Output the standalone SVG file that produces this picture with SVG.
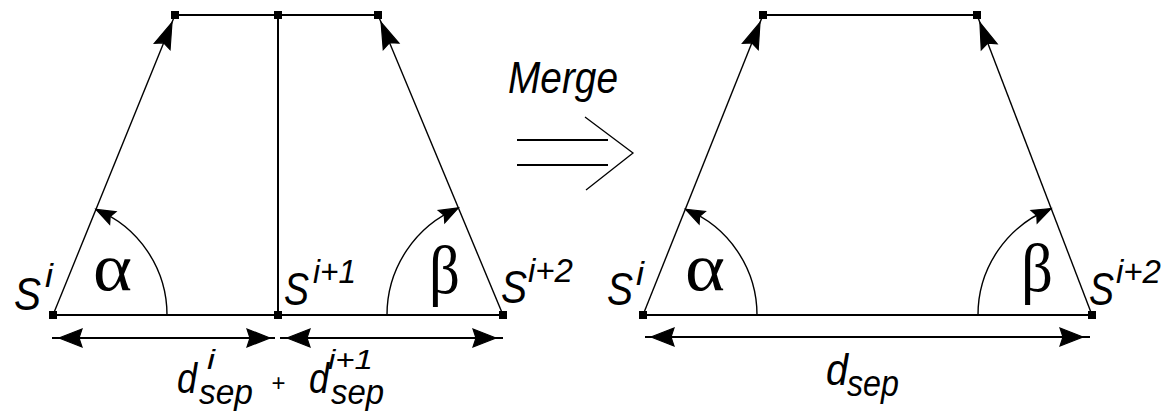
<svg xmlns="http://www.w3.org/2000/svg" xmlns:xlink="http://www.w3.org/1999/xlink" width="1163" height="412" viewBox="0 0 1163 412">
<style>
.ln{stroke:#000;stroke-width:2;fill:none}
.sl{stroke:#000;stroke-width:1.4;fill:none}
.arc{stroke:#000;stroke-width:1.4;fill:none}
.dot{fill:#000}
.it{font-family:"Liberation Sans",Arial,sans-serif;font-style:italic;fill:#000}
.gr{font-family:"Liberation Serif","Times New Roman",serif;fill:#000}
.pl{font-family:"Liberation Sans",Arial,sans-serif;fill:#000}
</style>
<defs>
<path id="head" d="M0,0 L-26,-8.5 L-22,0 L-26,8.5 z" fill="#000" stroke="#000" stroke-width="1.2" style="fill:#000"/>
<path id="dhead" d="M0,0 L-23,-9 L-20,0 L-23,9 z" fill="#000" stroke="#000" stroke-width="1.2" style="fill:#000"/>
<path id="ahead" d="M0,0 L-19,-7 L-16,0 L-19,7 z" fill="#000" stroke="#000" stroke-width="1.2" style="fill:#000"/>
</defs>
<rect width="1163" height="412" fill="#fff"/>

<g id="connectors">
<!-- left figure -->
<line class="ln" x1="175" y1="15" x2="378" y2="15"/>
<line class="ln" x1="278" y1="15" x2="278" y2="315"/>
<line class="ln" x1="53" y1="315" x2="503" y2="315"/>
<line class="sl" x1="53" y1="315" x2="175" y2="15"/>
<use href="#head" xlink:href="#head" transform="translate(172,22.4) rotate(-67.87)"/>
<line class="sl" x1="503" y1="315" x2="378" y2="15"/>
<use href="#head" xlink:href="#head" transform="translate(381.1,22.4) rotate(-112.62)"/>
<path class="arc" d="M167,315 A114,114 0 0 0 95.9,209.4"/>
<use href="#ahead" xlink:href="#ahead" transform="translate(95.9,209.4) rotate(-153)"/>
<path class="arc" d="M387,315 A116,116 0 0 1 458.4,207.9"/>
<use href="#ahead" xlink:href="#ahead" transform="translate(458.4,207.9) rotate(-27.5)"/>
<line class="ln" x1="52" y1="338" x2="275" y2="338"/>
<use href="#dhead" xlink:href="#dhead" transform="translate(59,338) rotate(180)"/>
<use href="#dhead" xlink:href="#dhead" transform="translate(270,338)"/>
<line class="ln" x1="280" y1="338" x2="503" y2="338"/>
<use href="#dhead" xlink:href="#dhead" transform="translate(287,338) rotate(180)"/>
<use href="#dhead" xlink:href="#dhead" transform="translate(496,338)"/>
<!-- right figure -->
<line class="ln" x1="763" y1="15" x2="977" y2="15"/>
<line class="ln" x1="643" y1="315" x2="1092" y2="315"/>
<line class="sl" x1="643" y1="315" x2="763" y2="15"/>
<use href="#head" xlink:href="#head" transform="translate(760,22.4) rotate(-68.2)"/>
<line class="sl" x1="1092" y1="315" x2="977" y2="15"/>
<use href="#head" xlink:href="#head" transform="translate(979.9,22.5) rotate(-110.97)"/>
<path class="arc" d="M757,315 A114,114 0 0 0 685.3,209.2"/>
<use href="#ahead" xlink:href="#ahead" transform="translate(685.3,209.2) rotate(-153.2)"/>
<path class="arc" d="M978,315 A114,114 0 0 1 1051.2,208.5"/>
<use href="#ahead" xlink:href="#ahead" transform="translate(1051.2,208.5) rotate(-26)"/>
<line class="ln" x1="645" y1="337" x2="1090" y2="337"/>
<use href="#dhead" xlink:href="#dhead" transform="translate(651,337) rotate(180)"/>
<use href="#dhead" xlink:href="#dhead" transform="translate(1083,337)"/>
</g>

<g id="merge-arrow">
<line class="ln" x1="517" y1="140" x2="608" y2="140"/>
<line class="ln" x1="517" y1="165" x2="608" y2="165"/>
<path d="M585,117 L633,153 L586,190" stroke="#000" stroke-width="1.3" fill="none"/>
<text class="it" x="508" y="93" font-size="44" textLength="110" lengthAdjust="spacingAndGlyphs">Merge</text>
</g>

<g id="left-figure-nodes">
<g id="node-Si-left">
<rect class="dot" x="49" y="311" width="8" height="8"/>
<text class="it" x="14" y="310" font-size="46" textLength="27" lengthAdjust="spacingAndGlyphs">S</text>
<text class="it" x="45" y="287" font-size="34" textLength="8" lengthAdjust="spacingAndGlyphs">i</text>
</g>
<g id="node-Si1">
<rect class="dot" x="274" y="311" width="8" height="8"/>
<text class="it" x="284" y="305" font-size="46" textLength="25" lengthAdjust="spacingAndGlyphs">S</text>
<text class="it" x="313" y="283" font-size="34" textLength="43" lengthAdjust="spacingAndGlyphs">i+1</text>
</g>
<g id="node-Si2-left">
<rect class="dot" x="499" y="311" width="8" height="8"/>
<text class="it" x="501" y="303" font-size="46" textLength="26" lengthAdjust="spacingAndGlyphs">S</text>
<text class="it" x="528" y="282" font-size="34" textLength="45" lengthAdjust="spacingAndGlyphs">i+2</text>
</g>
<rect class="dot" x="171" y="11" width="8" height="8"/>
<rect class="dot" x="274" y="11" width="8" height="8"/>
<rect class="dot" x="374" y="11" width="8" height="8"/>
<text class="gr" x="93" y="290" font-size="68" textLength="39" lengthAdjust="spacingAndGlyphs">α</text>
<text class="gr" x="429" y="293" font-size="68" textLength="31" lengthAdjust="spacingAndGlyphs">β</text>
<g id="label-dsep-sum">
<text class="it" x="177" y="393" font-size="42" textLength="20" lengthAdjust="spacingAndGlyphs">d</text>
<text class="it" x="207" y="369" font-size="28" textLength="8" lengthAdjust="spacingAndGlyphs">i</text>
<text class="it" x="199" y="404" font-size="35" textLength="54" lengthAdjust="spacingAndGlyphs">sep</text>
<text class="pl" x="278.5" y="391" font-size="24" text-anchor="middle">+</text>
<text class="it" x="309" y="393" font-size="42" textLength="20" lengthAdjust="spacingAndGlyphs">d</text>
<text class="it" x="328" y="369" font-size="28" textLength="45" lengthAdjust="spacingAndGlyphs">i+1</text>
<text class="it" x="331" y="404" font-size="35" textLength="53" lengthAdjust="spacingAndGlyphs">sep</text>
</g>
</g>

<g id="right-figure-nodes">
<g id="node-Si-right">
<rect class="dot" x="639" y="311" width="8" height="8"/>
<text class="it" x="607" y="305" font-size="46" textLength="26" lengthAdjust="spacingAndGlyphs">S</text>
<text class="it" x="636" y="285" font-size="34" textLength="8" lengthAdjust="spacingAndGlyphs">i</text>
</g>
<g id="node-Si2-right">
<rect class="dot" x="1088" y="311" width="8" height="8"/>
<text class="it" x="1089" y="305" font-size="46" textLength="25" lengthAdjust="spacingAndGlyphs">S</text>
<text class="it" x="1116" y="283" font-size="34" textLength="45" lengthAdjust="spacingAndGlyphs">i+2</text>
</g>
<rect class="dot" x="759" y="11" width="8" height="8"/>
<rect class="dot" x="973" y="11" width="8" height="8"/>
<text class="gr" x="685" y="290" font-size="68" textLength="40" lengthAdjust="spacingAndGlyphs">α</text>
<text class="gr" x="1021" y="291" font-size="68" textLength="32" lengthAdjust="spacingAndGlyphs">β</text>
<g id="label-dsep">
<text class="it" x="826" y="385" font-size="44" textLength="22" lengthAdjust="spacingAndGlyphs">d</text>
<text class="it" x="847" y="396" font-size="36" textLength="52" lengthAdjust="spacingAndGlyphs">sep</text>
</g>
</g>
</svg>
